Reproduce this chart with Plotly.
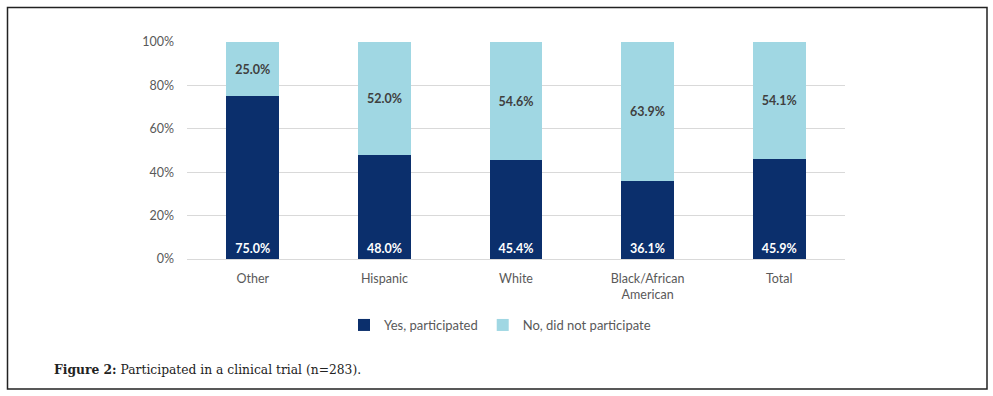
import plotly.graph_objects as go

categories = ["Other", "Hispanic", "White", "Black/African<br>American", "Total"]
yes_participated = [75.0, 48.0, 45.4, 36.1, 45.9]
no_participate = [25.0, 52.0, 54.6, 63.9, 54.1]
tick_vals = [0, 20, 40, 60, 80, 100]
tick_text = ["0%", "20%", "40%", "60%", "80%", "100%"]

W, H = 993, 396
L, R, T, B = 187, 845, 42, 259

def px_x(p):
    return (p - L) / (R - L)

def px_y(p):
    return (B - p) / (B - T)

fig = go.Figure()
fig.add_trace(go.Bar(
    x=categories, y=yes_participated, name="Yes, participated",
    marker=dict(color="#0B2F6C", line=dict(width=0)),
    texttemplate="%{y:.1f}%", textposition="inside", insidetextanchor="start",
    textfont=dict(color="white", size=12.5, family="Lato", weight="bold"),
    textangle=0,
))
fig.add_trace(go.Bar(
    x=categories, y=no_participate, name="No, did not participate",
    marker=dict(color="#A0D7E3", line=dict(width=0)),
    texttemplate="%{y:.1f}%", textposition="inside", insidetextanchor="middle",
    textfont=dict(color="#3F3F3F", size=12.5, family="Lato", weight="bold"),
    textangle=0,
))

fig.update_layout(
    width=W, height=H,
    barmode="stack", bargap=0.6,
    margin=dict(l=L, r=W - R, t=T, b=H - B, autoexpand=False),
    plot_bgcolor="white", paper_bgcolor="white",
    font=dict(family="Lato", color="#595959", size=12),
    showlegend=True,
    legend=dict(orientation="h", x=px_x(500), y=px_y(325), xanchor="center", yanchor="middle",
                font=dict(size=13, color="#595959"), traceorder="normal",
                itemwidth=30, bgcolor="rgba(0,0,0,0)"),
    xaxis=dict(showgrid=False, showline=True, linecolor="#D9D9D9", linewidth=1,
               ticks="", ticklabelstandoff=8, tickfont=dict(size=12.5, color="#595959")),
    yaxis=dict(range=[0, 100], tickvals=tick_vals, ticktext=tick_text,
               showgrid=True, gridcolor="#D9D9D9", gridwidth=1, zeroline=False,
               showline=False, ticks="", ticklabelstandoff=12,
               tickfont=dict(size=12.5, color="#595959")),
    shapes=[dict(type="rect", xref="paper", yref="paper",
                 x0=px_x(7.5), x1=px_x(987), y0=px_y(7.5), y1=px_y(389),
                 line=dict(color="#222222", width=1.5), fillcolor="rgba(0,0,0,0)", layer="below")],
    annotations=[dict(xref="paper", yref="paper", x=px_x(52), y=px_y(369),
                      xanchor="left", yanchor="middle", showarrow=False,
                      text="<b>Figure 2:</b> Participated in a clinical trial (n=283).",
                      font=dict(family="DejaVu Serif", size=12.3, color="#222222"))],
)

fig.write_html("out.html", config={"displayModeBar": False},
               post_script="document.body.style.margin='0';document.body.style.overflow='hidden';")
